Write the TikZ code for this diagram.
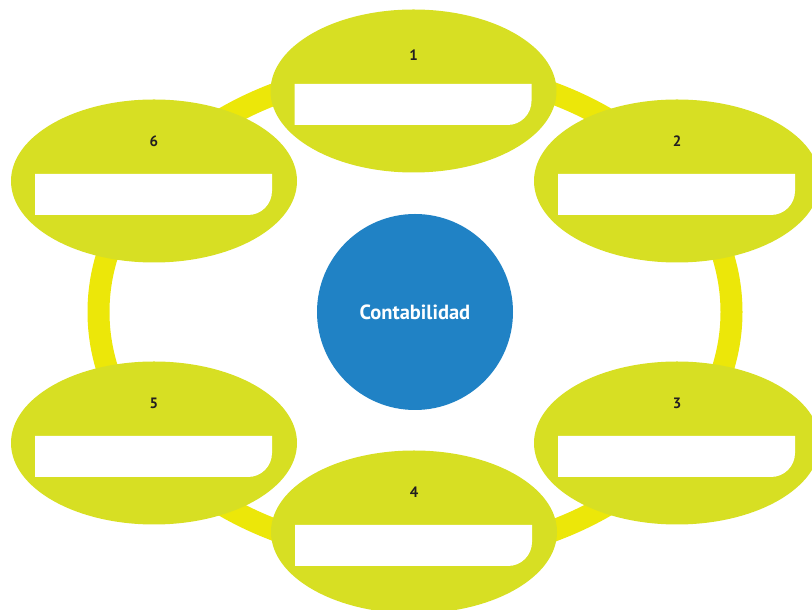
\documentclass[tikz,border=0pt]{standalone}
\usepackage{fontspec}
\setmainfont{PT Sans}
\usetikzlibrary{shapes.geometric}
\definecolor{petal}{RGB}{215,223,35}
\definecolor{ringc}{RGB}{236,231,9}
\definecolor{hub}{RGB}{32,130,197}
\definecolor{numc}{RGB}{35,31,32}
\tikzset{
  petalnode/.style={ellipse, fill=petal, minimum width=286pt, minimum height=163pt, inner sep=0pt},
  hubnode/.style={circle, fill=hub, minimum size=196pt, inner sep=0pt, text=white, font=\bfseries\fontsize{20.5}{24}\selectfont},
  numlabel/.style={text=numc, font=\bfseries\fontsize{15}{17}\selectfont, inner sep=0pt},
  ringnode/.style={ellipse, draw=ringc, line width=22pt, minimum width=633pt, minimum height=486pt, inner sep=0pt},
  whitebox/.style={fill=white}
}
\begin{document}
\begin{tikzpicture}[x=1pt,y=1pt]
\useasboundingbox (0,0) rectangle (812,610);
\begin{scope}
\clip (0,0) rectangle (812,610);
\node[ringnode] (ring) at (415,298) {};
\foreach \n/\cx/\cy/\ly in {1/413.5/519/35.5, 2/677/429/39.5, 3/677/167/39.5, 4/414/78/39.5, 5/154/167/39.5, 6/154/429/39.5}{
  \node[petalnode] (e\n) at (\cx,\cy) {};
  \node[numlabel] (l\n) at ([yshift=\ly pt]e\n.center) {\n};
  \begin{scope}[shift={(e\n.center)}]
    \fill[whitebox] (-119,7) -- (118,7) -- (118,-10) arc[start angle=0, end angle=-90, radius=24] -- (-119,-34) -- cycle;
  \end{scope}
}
\node[hubnode] (hub) at (415,298) {Contabilidad};
\end{scope}
\end{tikzpicture}
\end{document}
